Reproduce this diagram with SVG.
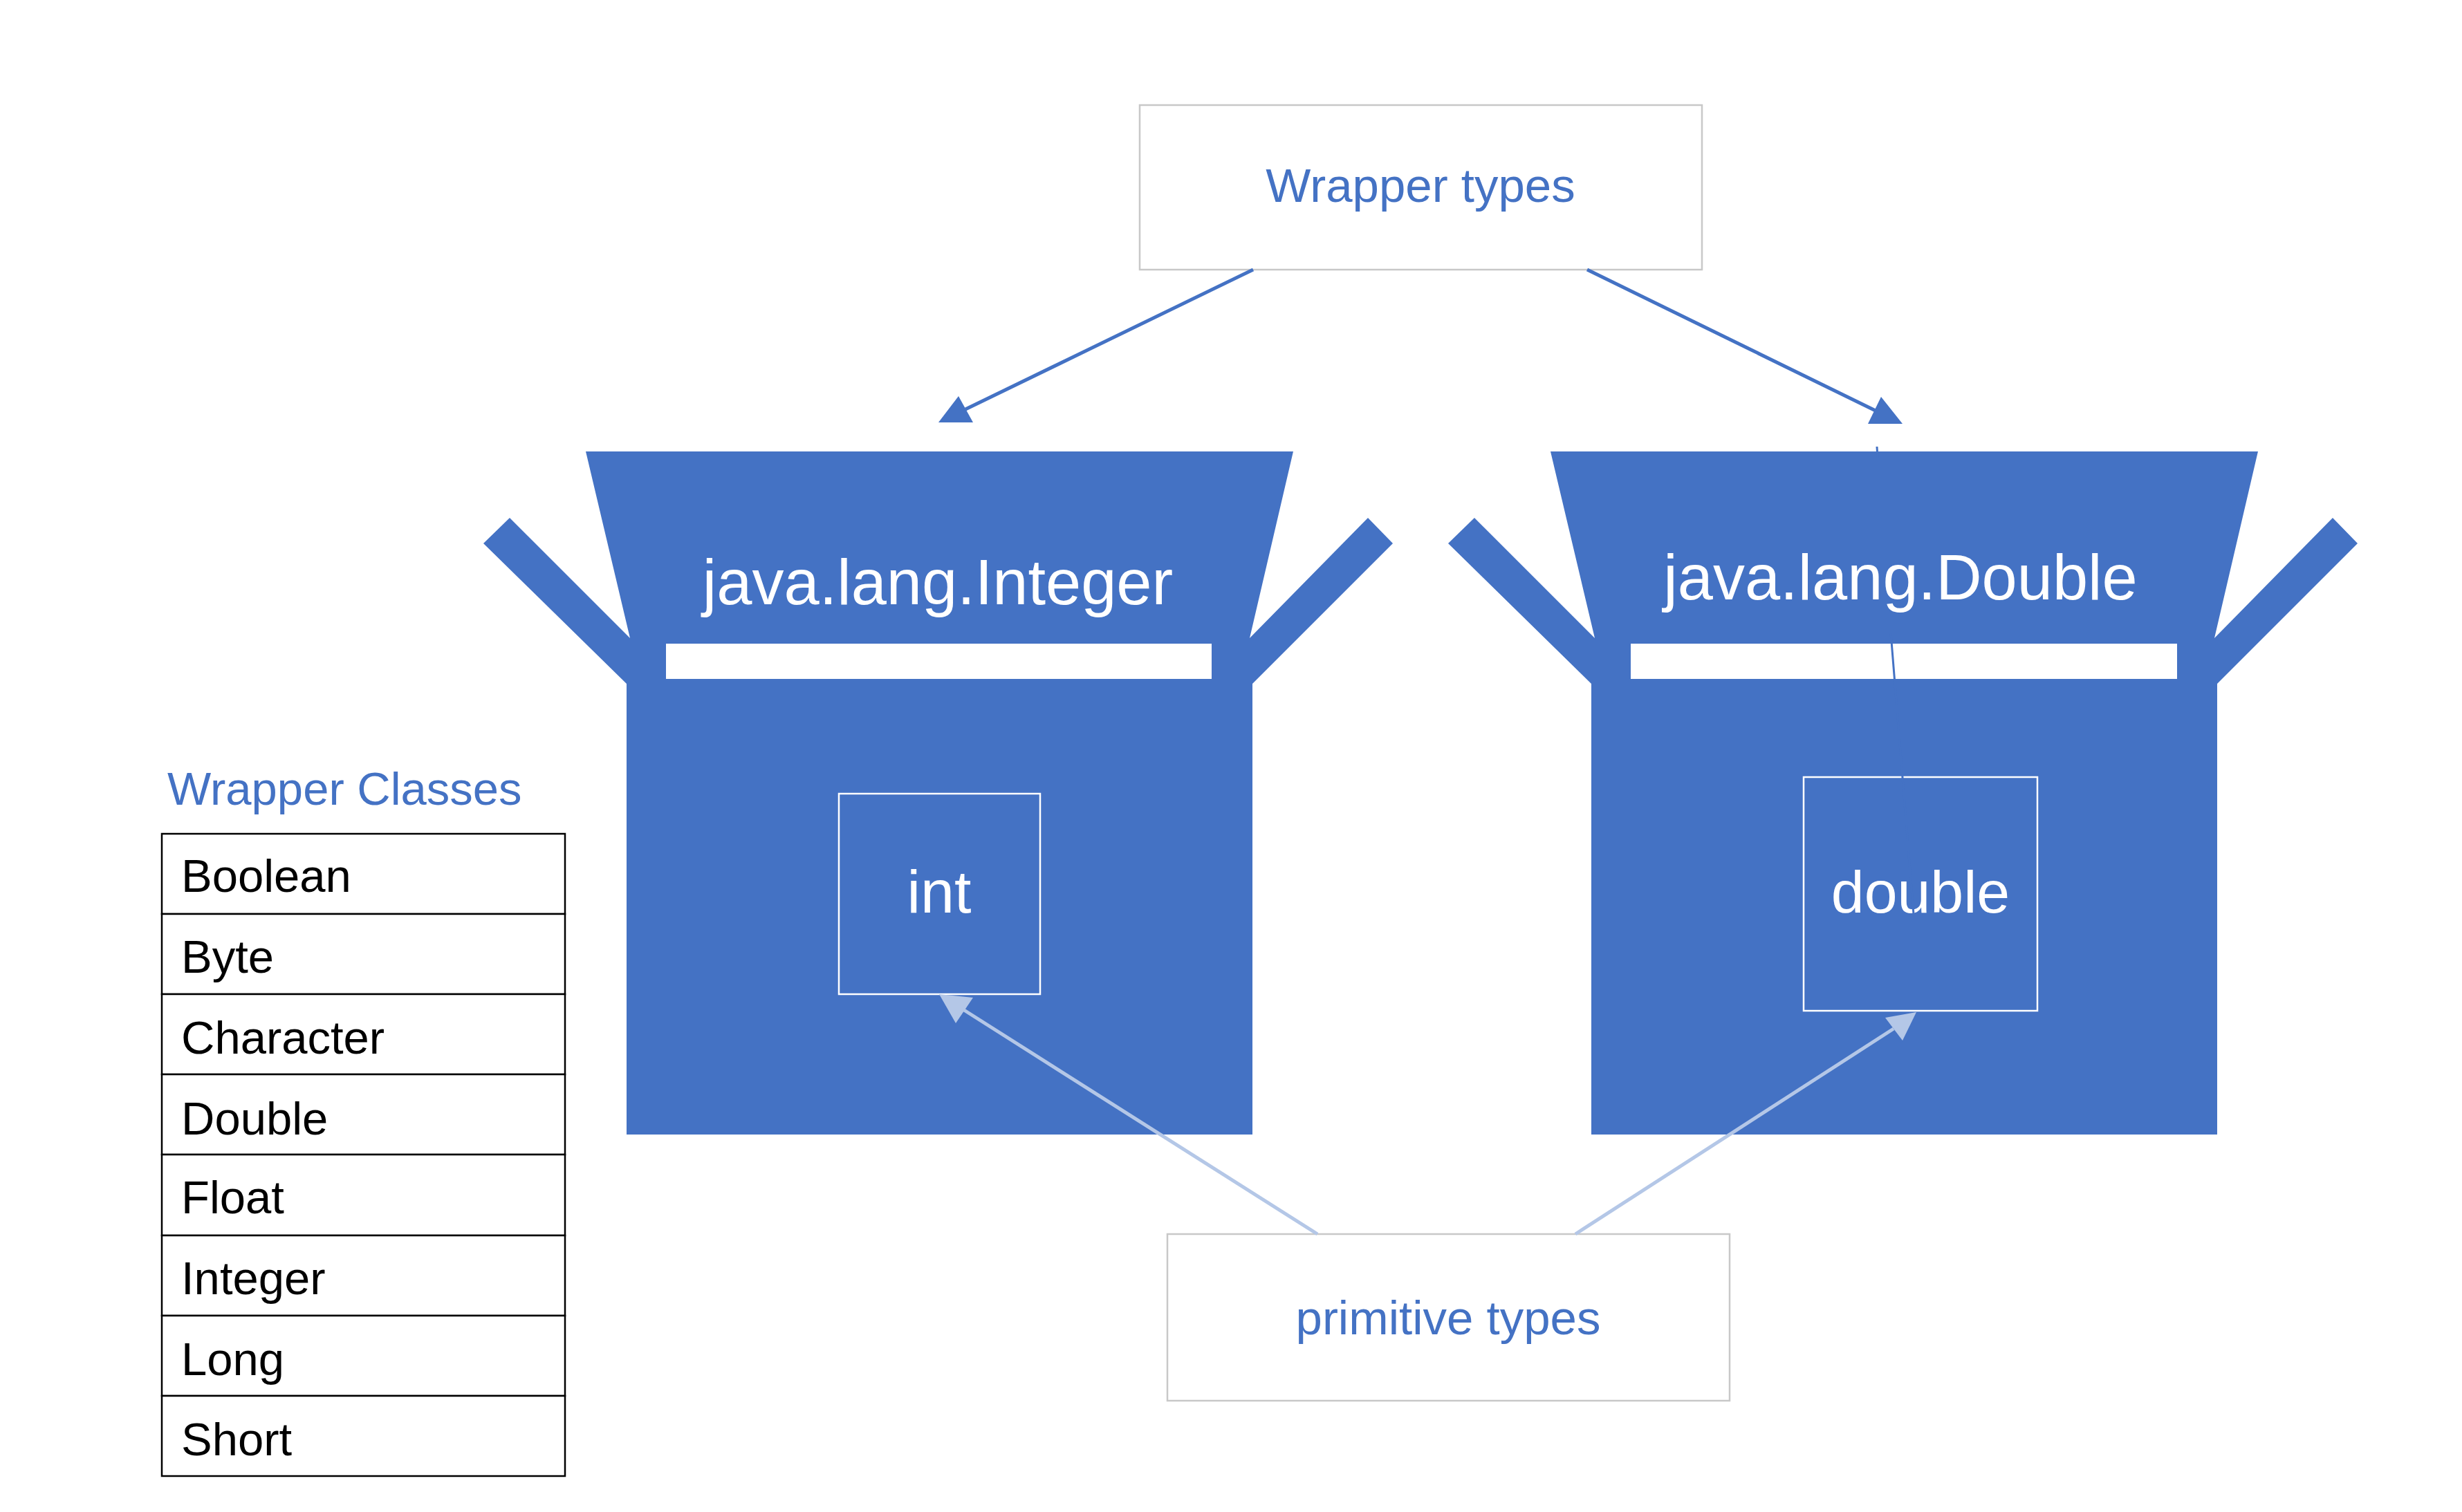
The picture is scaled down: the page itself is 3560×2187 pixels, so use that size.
<svg xmlns="http://www.w3.org/2000/svg" width="3560" height="2187" viewBox="0 0 3560 2187">
<defs>
<style>
.box{fill:#4472C4;}
.bar{fill:#FFFFFF;}
.inner{fill:none;stroke:#FFFFFF;stroke-width:2.5;}
.label{fill:#FFFFFF;stroke:#C8C8C8;stroke-width:2.5;}
.wt{font-family:"Liberation Sans",Arial,sans-serif;fill:#FFFFFF;text-anchor:middle;}
.bt{font-family:"Liberation Sans",Arial,sans-serif;fill:#4472C4;text-anchor:middle;font-size:69px;}
.tt{font-family:"Liberation Sans",Arial,sans-serif;fill:#000000;font-size:67px;}
.cell{fill:#FFFFFF;stroke:#000000;stroke-width:2.5;}
.dk{stroke:#4472C4;stroke-width:5;fill:none;}
.lt{stroke:#B4C7E7;stroke-width:5;fill:none;}
</style>
<path id="boxshape" d="M847,653 L1870,653 L1807,923 L1978,749 L2014,786 L1811,989 L1811,1641 L906,1641 L906,989 L699,786 L737,749 L911,923 Z"/>
</defs>
<rect width="3560" height="2187" fill="#FFFFFF"/>

<g id="wrapper-types">
<rect class="label" x="1648" y="152" width="813" height="238"/>
<text class="bt" x="2054" y="292">Wrapper types</text>
</g>

<g id="integer-box">
<use href="#boxshape" class="box"/>
<rect class="bar" x="963" y="931" width="789" height="51"/>
<text class="wt" x="1356" y="874" font-size="92">java.lang.Integer</text>
</g>

<g id="double-box">
<use href="#boxshape" class="box" transform="translate(1395,0)"/>
<rect class="bar" x="2358" y="931" width="790" height="51"/>
<text class="wt" x="2748" y="867" font-size="92">java.lang.Double</text>
</g>

<g id="int">
<rect class="inner" x="1213" y="1148" width="291" height="290"/>
<text class="wt" x="1358" y="1320" font-size="88">int</text>
</g>

<g id="double">
<rect class="inner" x="2608" y="1124" width="338" height="338"/>
<text class="wt" x="2777" y="1320" font-size="86">double</text>
</g>

<g id="primitive-types">
<rect class="label" x="1688" y="1785" width="813" height="241"/>
<text class="bt" x="2094" y="1930">primitive types</text>
</g>

<g id="wrapper-classes">
<text x="242" y="1164" font-family="Liberation Sans, Arial, sans-serif" font-size="67" fill="#4472C4">Wrapper Classes</text>
<rect class="cell" x="234" y="1206" width="583" height="116"/>
<rect class="cell" x="234" y="1322" width="583" height="116"/>
<rect class="cell" x="234" y="1438" width="583" height="116"/>
<rect class="cell" x="234" y="1554" width="583" height="116"/>
<rect class="cell" x="234" y="1670" width="583" height="117"/>
<rect class="cell" x="234" y="1787" width="583" height="116"/>
<rect class="cell" x="234" y="1903" width="583" height="116"/>
<rect class="cell" x="234" y="2019" width="583" height="116"/>
<text class="tt" x="262" y="1290">Boolean</text>
<text class="tt" x="262" y="1407">Byte</text>
<text class="tt" x="262" y="1524">Character</text>
<text class="tt" x="262" y="1641">Double</text>
<text class="tt" x="262" y="1755">Float</text>
<text class="tt" x="262" y="1872">Integer</text>
<text class="tt" x="262" y="1989">Long</text>
<text class="tt" x="262" y="2105">Short</text>
</g>

<g id="connectors">
<line class="dk" x1="1812" y1="390" x2="1396" y2="592"/>
<polygon points="1386,573 1357,611 1407,611" fill="#4472C4"/>
<line class="dk" x1="2295" y1="390" x2="2712" y2="594"/>
<polygon points="2720,574 2701,613 2751,613" fill="#4472C4"/>
<line class="lt" x1="1905" y1="1785" x2="1394" y2="1461"/>
<polygon points="1358,1438 1407,1443 1382,1480" fill="#B4C7E7"/>
<line class="lt" x1="2278" y1="1785" x2="2738" y2="1488"/>
<polygon points="2771,1464 2726,1472 2751,1505" fill="#B4C7E7"/>
<line x1="2714" y1="646" x2="2715" y2="662" stroke="#4472C4" stroke-width="3"/>
<line x1="2734" y1="915" x2="2767" y2="1322" stroke="#4472C4" stroke-width="3"/>
</g>
</svg>
